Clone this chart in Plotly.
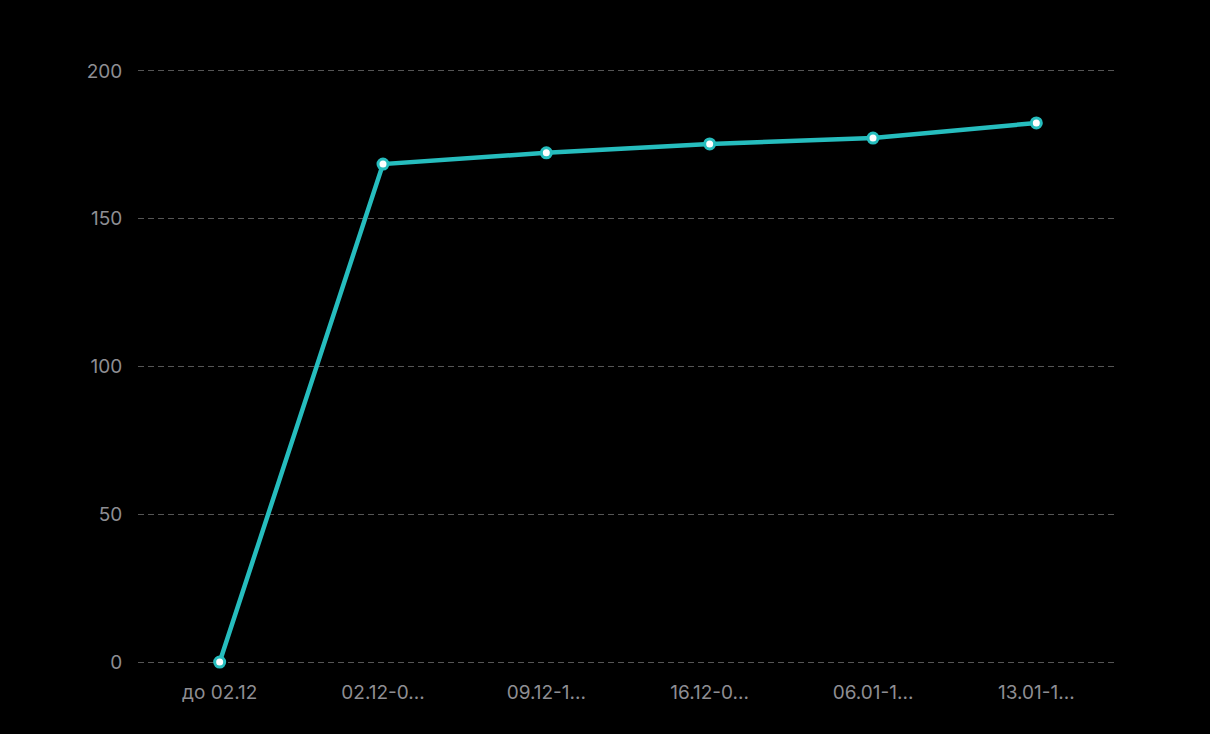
import plotly.graph_objects as go

categories = ["до 02.12", "02.12-0...", "09.12-1...", "16.12-0...", "06.01-1...", "13.01-1..."]
values = [0, 168.5, 172.3, 175.3, 177.3, 182.4]
y_ticks = [0, 50, 100, 150, 200]

teal = "#26BDBE"
label_color = "#8E8E93"

fig = go.Figure()
fig.add_trace(go.Scatter(
    x=categories, y=values, mode="lines+markers",
    line=dict(color=teal, width=4.5),
    marker=dict(size=10, color="white", line=dict(color=teal, width=3)),
    cliponaxis=False,
))

fig.update_layout(
    width=1210, height=734,
    paper_bgcolor="black", plot_bgcolor="black",
    margin=dict(l=138, r=92, t=68, b=69),
    showlegend=False,
    font=dict(family="Inter", size=19, color=label_color),
    xaxis=dict(type="category", range=[-0.5, 5.5], showgrid=False, zeroline=False,
               showline=False, ticks="outside", ticklen=10, tickcolor="rgba(0,0,0,0)",
               tickfont=dict(size=19, color=label_color)),
    yaxis=dict(range=[-1, 201], tickvals=y_ticks, showgrid=True, gridcolor="#555555",
               griddash="6px,4px", gridwidth=1, zeroline=False, showline=False,
               ticks="outside", ticklen=11, tickcolor="rgba(0,0,0,0)",
               tickfont=dict(size=19, color=label_color)),
)

fig.write_html("out.html", config={"displayModeBar": False},
               post_script="document.body.style.margin='0';document.body.style.background='#000';")
